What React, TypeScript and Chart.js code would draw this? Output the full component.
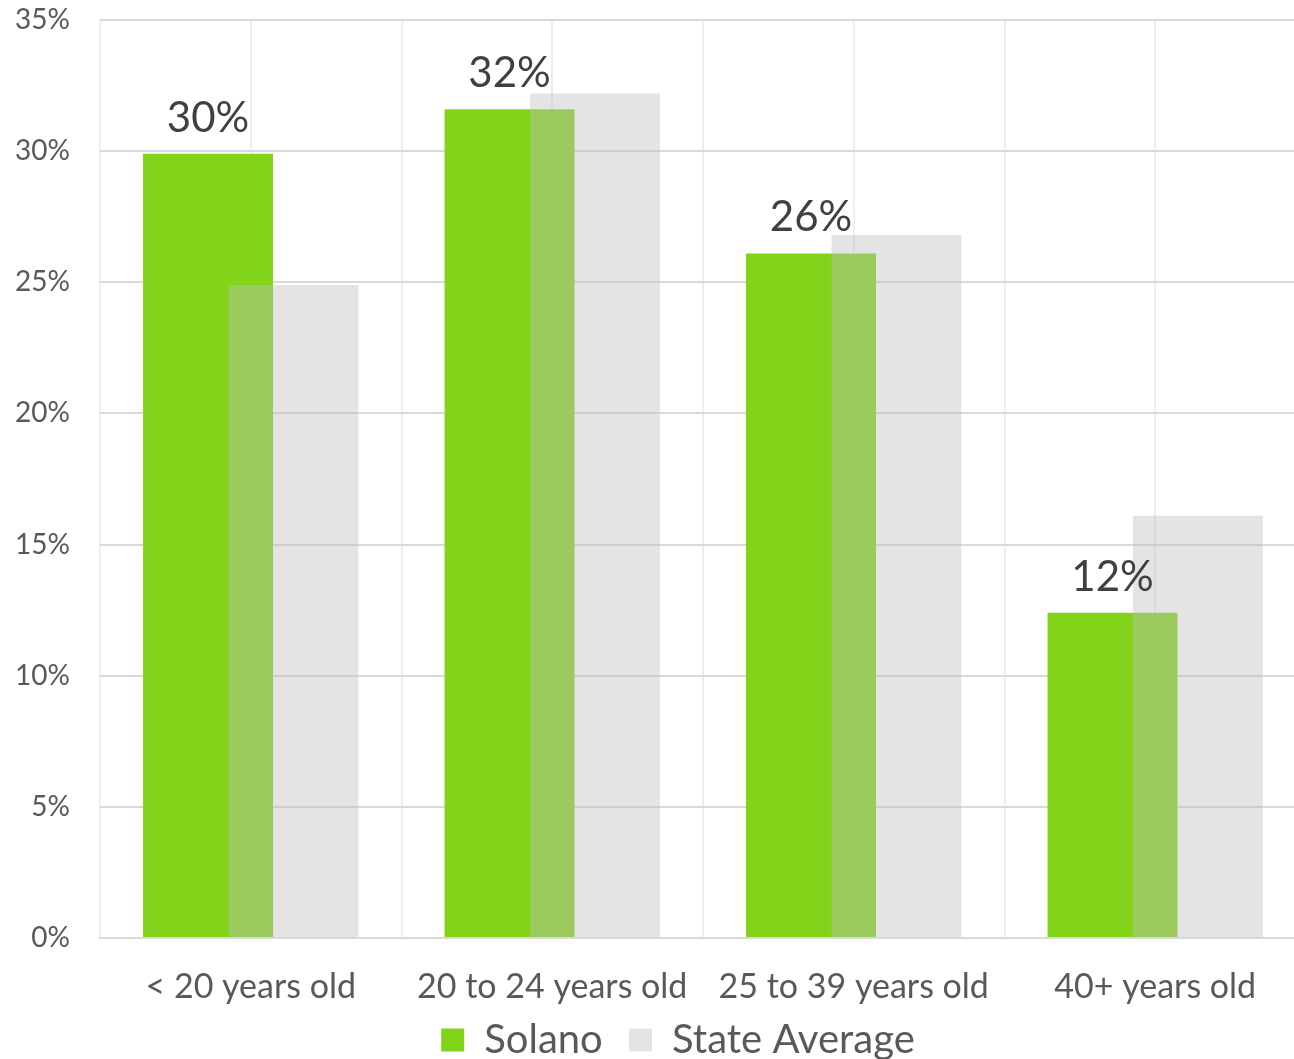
import React, { useEffect, useRef } from "react";
import { Chart, registerables } from "chart.js";

Chart.register(...registerables);

const categories = ["< 20 years old", "20 to 24 years old", "25 to 39 years old", "40+ years old"];
const solanoValues = [29.9, 31.6, 26.1, 12.4];
const stateValues = [24.9, 32.2, 26.8, 16.1];
const yTickValues = [0, 5, 10, 15, 20, 25, 30, 35];

const FONT = "Lato, 'Open Sans', sans-serif";

const layerPlugin = {
  id: "layerPlugin",
  beforeDatasetDraw(chart: any, args: any) {
    if (args.index === 1 && !chart.$manualDraw) return false;
    return true;
  },
  afterDatasetsDraw(chart: any) {
    chart.$manualDraw = true;
    chart._drawDataset(chart.getDatasetMeta(1));
    chart.$manualDraw = false;
    const ctx = chart.ctx;
    const meta = chart.getDatasetMeta(0);
    ctx.save();
    ctx.font = `42px ${FONT}`;
    ctx.fillStyle = "#404040";
    ctx.textAlign = "center";
    ctx.textBaseline = "alphabetic";
    meta.data.forEach((bar: any, i: number) => {
      ctx.fillText(Math.round(solanoValues[i]) + "%", bar.x, bar.y - 22);
    });
    ctx.restore();
  },
  afterLayout(chart: any) {
    const lg = chart.legend;
    if (lg) {
      lg.left += 25;
      lg.right += 25;
    }
  },
};

export default function App() {
  const ref = useRef<HTMLCanvasElement>(null);
  useEffect(() => {
    document.body.style.margin = "0";
    if (!ref.current) return;
    const chart: any = new Chart(ref.current, {
      type: "bar",
      data: {
        labels: categories,
        datasets: [
          {
            label: "Solano",
            data: solanoValues,
            backgroundColor: "#83D31A",
            categoryPercentage: 0.567,
            barPercentage: 1.52,
          },
          {
            label: "State Average",
            data: stateValues,
            backgroundColor: "rgba(190,190,190,0.41)",
            categoryPercentage: 0.567,
            barPercentage: 1.52,
          },
        ],
      },
      options: {
        animation: false,
        responsive: true,
        maintainAspectRatio: false,
        layout: { padding: { top: 20, left: 0, right: 0, bottom: -11 } },
        plugins: {
          tooltip: { enabled: false },
          legend: {
            position: "bottom",
            labels: {
              boxWidth: 23,
              boxHeight: 23,
              padding: 16,
              color: "#595959",
              font: { family: FONT, size: 40 },
              generateLabels: (c: any) =>
                c.data.datasets.map((d: any, i: number) => ({
                  text: i === 0 ? d.label + " " : d.label,
                  fillStyle: i === 0 ? "#83D31A" : "#E4E4E4",
                  strokeStyle: "rgba(0,0,0,0)",
                  lineWidth: 0,
                  fontColor: "#595959",
                  datasetIndex: i,
                })),
            },
          },
        },
        scales: {
          x: {
            type: "category",
            offset: true,
            grid: { offset: true, color: "#EEEEEE", lineWidth: 2, drawTicks: false },
            border: { color: "#D9D9D9", width: 2 },
            ticks: { color: "#595959", font: { family: FONT, size: 34, lineHeight: 1 }, padding: 32 },
            afterFit: (s: any) => {
              s.height = 66;
            },
          },
          x2: {
            type: "category",
            labels: categories,
            position: "top",
            offset: true,
            grid: { offset: false, color: "#EEEEEE", lineWidth: 2, drawTicks: false },
            border: { display: false },
            ticks: { display: false },
          },
          y: {
            min: 0,
            max: 35,
            afterFit: (s: any) => {
              s.width = 100;
              s.paddingTop = 14;
              s.paddingBottom = 14;
            },
            afterBuildTicks: (s: any) => {
              s.ticks = yTickValues.map((v) => ({ value: v }));
            },
            grid: { color: "#D9D9D9", lineWidth: 2, drawTicks: false },
            border: { display: false },
            ticks: {
              color: "#595959",
              padding: 30,
              font: { family: FONT, size: 28 },
              callback: (v: any) => v + "%",
            },
          },
        },
      },
      plugins: [layerPlugin],
    });
    return () => chart.destroy();
  }, []);
  return (
    <div style={{ width: 1294, height: 1059, overflow: "hidden", position: "relative" }}>
      <div style={{ width: 1306, height: 1059, position: "absolute", left: 0, top: 0 }}>
        <canvas ref={ref} />
      </div>
    </div>
  );
}
